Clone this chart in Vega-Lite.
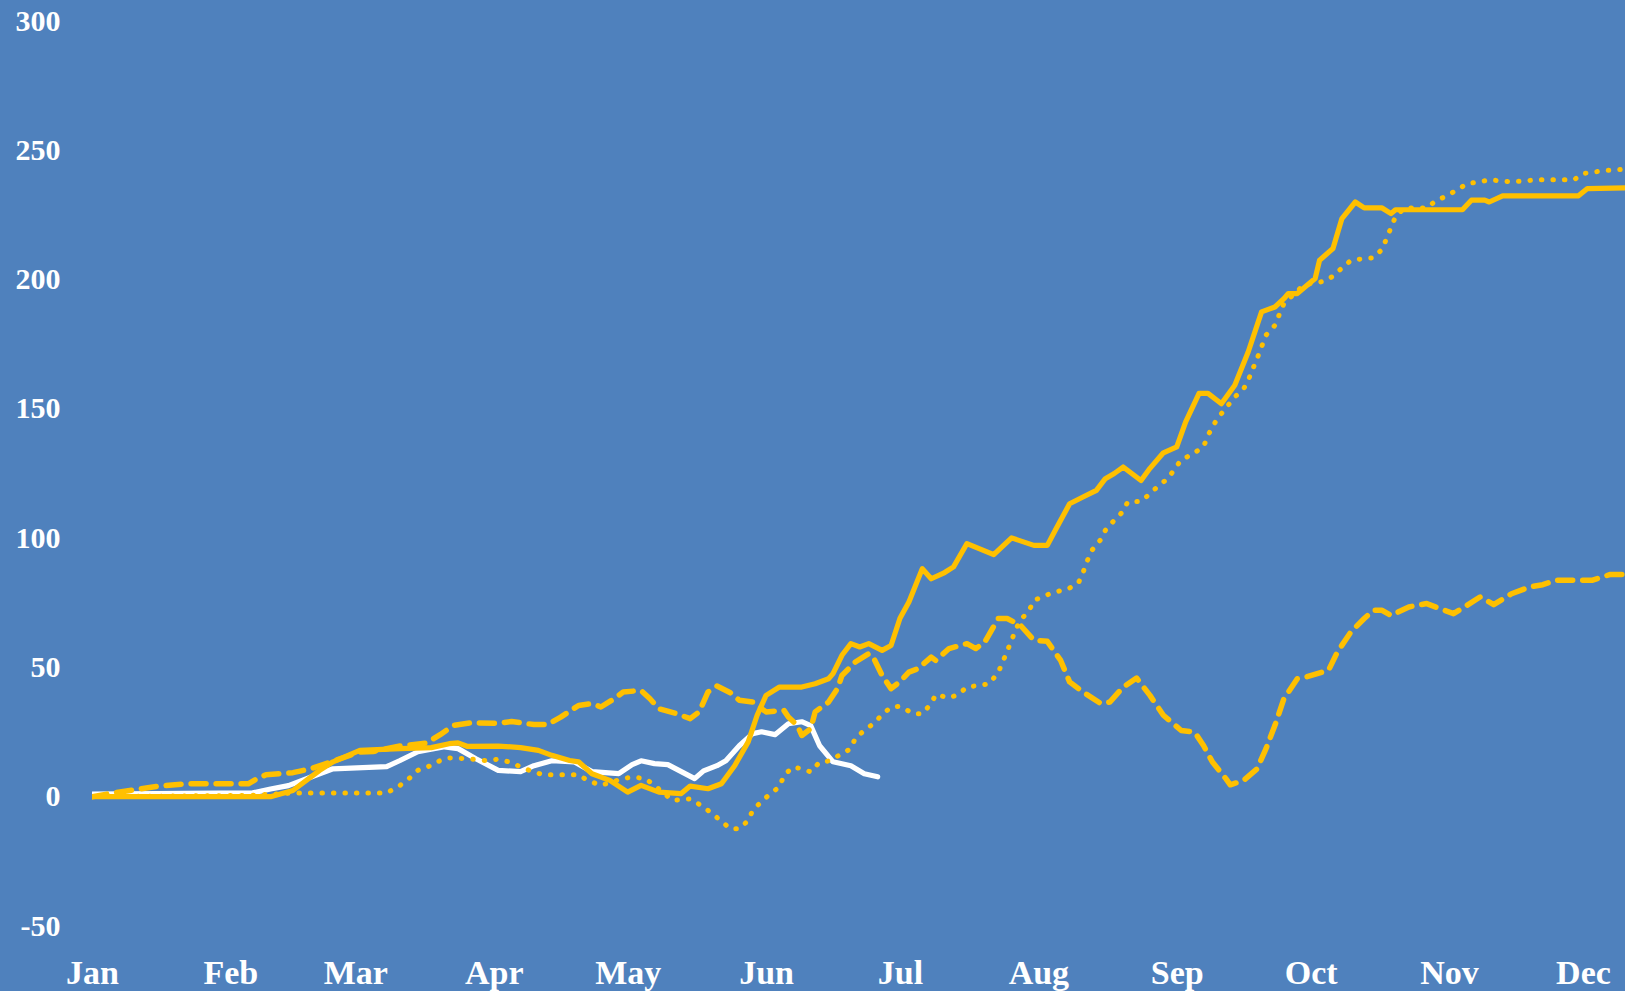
{
  "$schema": "https://vega.github.io/schema/vega-lite/v6.json",
  "autosize": {"type": "none"},
  "width": 1533,
  "height": 905,
  "padding": {"left": 92, "top": 21, "right": 0, "bottom": 65},
  "background": "#4F81BD",
  "config": {
    "view": {"stroke": null},
    "font": "Liberation Serif"
  },
  "datasets": {
    "current": [
      {"date": "2019-01-01", "v": 1}, {"date": "2019-02-06", "v": 1.5}, {"date": "2019-02-10", "v": 3},
      {"date": "2019-02-14", "v": 4.3}, {"date": "2019-02-21", "v": 8.9}, {"date": "2019-02-24", "v": 10.8},
      {"date": "2019-03-08", "v": 11.6}, {"date": "2019-03-11", "v": 14}, {"date": "2019-03-15", "v": 17.4},
      {"date": "2019-03-21", "v": 19.3}, {"date": "2019-03-24", "v": 18.6}, {"date": "2019-03-28", "v": 14.7},
      {"date": "2019-04-02", "v": 10.2}, {"date": "2019-04-07", "v": 9.7}, {"date": "2019-04-10", "v": 12},
      {"date": "2019-04-14", "v": 13.9}, {"date": "2019-04-19", "v": 13.5}, {"date": "2019-04-23", "v": 9.7},
      {"date": "2019-04-29", "v": 8.9}, {"date": "2019-05-02", "v": 12.4}, {"date": "2019-05-04", "v": 13.9},
      {"date": "2019-05-07", "v": 12.8}, {"date": "2019-05-10", "v": 12.4}, {"date": "2019-05-13", "v": 9.7},
      {"date": "2019-05-16", "v": 7}, {"date": "2019-05-18", "v": 10}, {"date": "2019-05-21", "v": 12},
      {"date": "2019-05-23", "v": 13.9}, {"date": "2019-05-26", "v": 19.7}, {"date": "2019-05-29", "v": 24.4},
      {"date": "2019-05-31", "v": 25.1}, {"date": "2019-06-03", "v": 24}, {"date": "2019-06-06", "v": 28.2},
      {"date": "2019-06-09", "v": 29}, {"date": "2019-06-11", "v": 27.5}, {"date": "2019-06-13", "v": 19.7},
      {"date": "2019-06-16", "v": 13.5}, {"date": "2019-06-20", "v": 12}, {"date": "2019-06-23", "v": 8.9},
      {"date": "2019-06-26", "v": 7.7}
    ],
    "solid": [
      {"date": "2019-01-01", "v": 0}, {"date": "2019-02-10", "v": 0}, {"date": "2019-02-15", "v": 2.4},
      {"date": "2019-02-21", "v": 10.2}, {"date": "2019-02-24", "v": 13.5}, {"date": "2019-03-02", "v": 17.9},
      {"date": "2019-03-11", "v": 18.6}, {"date": "2019-03-18", "v": 19}, {"date": "2019-03-22", "v": 20.5},
      {"date": "2019-03-24", "v": 20.8}, {"date": "2019-03-26", "v": 19.5}, {"date": "2019-04-02", "v": 19.6},
      {"date": "2019-04-07", "v": 19}, {"date": "2019-04-11", "v": 17.9}, {"date": "2019-04-14", "v": 16},
      {"date": "2019-04-18", "v": 14}, {"date": "2019-04-20", "v": 13.5}, {"date": "2019-04-23", "v": 8.9},
      {"date": "2019-04-27", "v": 6.3}, {"date": "2019-05-01", "v": 1.8}, {"date": "2019-05-04", "v": 4.4},
      {"date": "2019-05-08", "v": 1.8}, {"date": "2019-05-13", "v": 1.2}, {"date": "2019-05-15", "v": 4.1},
      {"date": "2019-05-19", "v": 3.1}, {"date": "2019-05-22", "v": 5}, {"date": "2019-05-25", "v": 12.1},
      {"date": "2019-05-28", "v": 21.2}, {"date": "2019-05-30", "v": 31.5}, {"date": "2019-06-01", "v": 39.2},
      {"date": "2019-06-04", "v": 42.4}, {"date": "2019-06-09", "v": 42.4}, {"date": "2019-06-12", "v": 43.7},
      {"date": "2019-06-15", "v": 45.6}, {"date": "2019-06-16", "v": 47.6}, {"date": "2019-06-18", "v": 54.7},
      {"date": "2019-06-20", "v": 59.2}, {"date": "2019-06-22", "v": 57.9}, {"date": "2019-06-24", "v": 59.2},
      {"date": "2019-06-27", "v": 56.6}, {"date": "2019-06-29", "v": 58.5}, {"date": "2019-07-01", "v": 69},
      {"date": "2019-07-03", "v": 75.3}, {"date": "2019-07-06", "v": 88.2}, {"date": "2019-07-08", "v": 84.3},
      {"date": "2019-07-11", "v": 86.7}, {"date": "2019-07-13", "v": 88.9}, {"date": "2019-07-16", "v": 97.9},
      {"date": "2019-07-22", "v": 93.6}, {"date": "2019-07-26", "v": 100.1}, {"date": "2019-07-31", "v": 97.2},
      {"date": "2019-08-03", "v": 97.2}, {"date": "2019-08-05", "v": 103.7}, {"date": "2019-08-08", "v": 113.3},
      {"date": "2019-08-11", "v": 115.9}, {"date": "2019-08-14", "v": 118.5}, {"date": "2019-08-16", "v": 123},
      {"date": "2019-08-18", "v": 125}, {"date": "2019-08-20", "v": 127.5}, {"date": "2019-08-24", "v": 122.3},
      {"date": "2019-08-26", "v": 127}, {"date": "2019-08-29", "v": 133}, {"date": "2019-09-01", "v": 135.3},
      {"date": "2019-09-03", "v": 145}, {"date": "2019-09-06", "v": 156}, {"date": "2019-09-08", "v": 156},
      {"date": "2019-09-10", "v": 153.3}, {"date": "2019-09-11", "v": 152}, {"date": "2019-09-14", "v": 159.1},
      {"date": "2019-09-17", "v": 172}, {"date": "2019-09-20", "v": 187.5}, {"date": "2019-09-23", "v": 189.4},
      {"date": "2019-09-25", "v": 192.6}, {"date": "2019-09-26", "v": 194.6}, {"date": "2019-09-28", "v": 194.6},
      {"date": "2019-10-02", "v": 200.4}, {"date": "2019-10-03", "v": 207.5}, {"date": "2019-10-06", "v": 212},
      {"date": "2019-10-08", "v": 223.6}, {"date": "2019-10-11", "v": 230}, {"date": "2019-10-13", "v": 227.7},
      {"date": "2019-10-17", "v": 227.7}, {"date": "2019-10-19", "v": 225.5}, {"date": "2019-10-20", "v": 227},
      {"date": "2019-11-04", "v": 227}, {"date": "2019-11-06", "v": 230.7}, {"date": "2019-11-09", "v": 230.7},
      {"date": "2019-11-10", "v": 230}, {"date": "2019-11-13", "v": 232.4}, {"date": "2019-11-30", "v": 232.4},
      {"date": "2019-12-02", "v": 235.2}, {"date": "2019-12-12", "v": 235.5}
    ],
    "dashed": [
      {"date": "2019-01-01", "v": 0}, {"date": "2019-01-05", "v": 1.2}, {"date": "2019-01-12", "v": 3.1},
      {"date": "2019-01-16", "v": 4.1}, {"date": "2019-01-22", "v": 5}, {"date": "2019-02-05", "v": 5},
      {"date": "2019-02-07", "v": 7}, {"date": "2019-02-09", "v": 8.5}, {"date": "2019-02-15", "v": 9.3},
      {"date": "2019-02-19", "v": 10.8}, {"date": "2019-02-24", "v": 13.7}, {"date": "2019-03-02", "v": 17.3},
      {"date": "2019-03-05", "v": 17.5}, {"date": "2019-03-11", "v": 19.6}, {"date": "2019-03-17", "v": 20.8},
      {"date": "2019-03-20", "v": 24}, {"date": "2019-03-23", "v": 27.6}, {"date": "2019-03-27", "v": 28.6},
      {"date": "2019-04-02", "v": 28.4}, {"date": "2019-04-05", "v": 29.1}, {"date": "2019-04-10", "v": 27.9},
      {"date": "2019-04-13", "v": 27.9}, {"date": "2019-04-16", "v": 30.8}, {"date": "2019-04-20", "v": 35.3},
      {"date": "2019-04-23", "v": 36}, {"date": "2019-04-25", "v": 34.7}, {"date": "2019-04-28", "v": 37.9},
      {"date": "2019-04-30", "v": 40.5}, {"date": "2019-05-04", "v": 41.1}, {"date": "2019-05-06", "v": 37.9},
      {"date": "2019-05-08", "v": 34}, {"date": "2019-05-12", "v": 32.1}, {"date": "2019-05-15", "v": 30.2},
      {"date": "2019-05-17", "v": 32.8}, {"date": "2019-05-19", "v": 40.5}, {"date": "2019-05-21", "v": 42.8},
      {"date": "2019-05-24", "v": 40.2}, {"date": "2019-05-26", "v": 37.3}, {"date": "2019-05-29", "v": 36.6},
      {"date": "2019-06-01", "v": 32.8}, {"date": "2019-06-05", "v": 33.4}, {"date": "2019-06-06", "v": 30.8},
      {"date": "2019-06-08", "v": 27.6}, {"date": "2019-06-09", "v": 23.7}, {"date": "2019-06-11", "v": 26.3},
      {"date": "2019-06-12", "v": 32.8}, {"date": "2019-06-15", "v": 36.6}, {"date": "2019-06-17", "v": 41.8},
      {"date": "2019-06-18", "v": 46.9}, {"date": "2019-06-21", "v": 52.1}, {"date": "2019-06-24", "v": 55.3},
      {"date": "2019-06-25", "v": 54}, {"date": "2019-06-27", "v": 46.9}, {"date": "2019-06-29", "v": 41.8},
      {"date": "2019-07-01", "v": 44.5}, {"date": "2019-07-03", "v": 48.2}, {"date": "2019-07-05", "v": 49.5},
      {"date": "2019-07-08", "v": 54}, {"date": "2019-07-09", "v": 52.7}, {"date": "2019-07-12", "v": 57.3},
      {"date": "2019-07-16", "v": 59.2}, {"date": "2019-07-18", "v": 57.3}, {"date": "2019-07-20", "v": 59.8},
      {"date": "2019-07-23", "v": 68.9}, {"date": "2019-07-25", "v": 68.9}, {"date": "2019-07-28", "v": 66.3},
      {"date": "2019-07-31", "v": 60.5}, {"date": "2019-08-03", "v": 60.1}, {"date": "2019-08-06", "v": 52.7},
      {"date": "2019-08-08", "v": 44.4}, {"date": "2019-08-11", "v": 40.5}, {"date": "2019-08-15", "v": 36},
      {"date": "2019-08-17", "v": 36.6}, {"date": "2019-08-20", "v": 42.4}, {"date": "2019-08-23", "v": 45.9},
      {"date": "2019-08-26", "v": 39.2}, {"date": "2019-08-29", "v": 31.5}, {"date": "2019-09-02", "v": 25.6},
      {"date": "2019-09-05", "v": 25}, {"date": "2019-09-07", "v": 19.8}, {"date": "2019-09-09", "v": 13.4},
      {"date": "2019-09-12", "v": 7}, {"date": "2019-09-13", "v": 4.6}, {"date": "2019-09-16", "v": 6.3},
      {"date": "2019-09-19", "v": 10.8}, {"date": "2019-09-21", "v": 18.6}, {"date": "2019-09-23", "v": 27.6},
      {"date": "2019-09-25", "v": 37.9}, {"date": "2019-09-28", "v": 45.6}, {"date": "2019-09-30", "v": 46.3},
      {"date": "2019-10-05", "v": 48.9}, {"date": "2019-10-07", "v": 56}, {"date": "2019-10-10", "v": 63.7},
      {"date": "2019-10-13", "v": 68.9}, {"date": "2019-10-15", "v": 72.1}, {"date": "2019-10-17", "v": 72.1},
      {"date": "2019-10-19", "v": 70.1}, {"date": "2019-10-23", "v": 73.4}, {"date": "2019-10-27", "v": 74.7},
      {"date": "2019-10-30", "v": 72.7}, {"date": "2019-11-02", "v": 70.8}, {"date": "2019-11-05", "v": 74},
      {"date": "2019-11-08", "v": 77.3}, {"date": "2019-11-11", "v": 74.3}, {"date": "2019-11-15", "v": 78.5},
      {"date": "2019-11-19", "v": 81.1}, {"date": "2019-11-22", "v": 82}, {"date": "2019-11-25", "v": 83.7},
      {"date": "2019-12-03", "v": 83.7}, {"date": "2019-12-07", "v": 85.9}, {"date": "2019-12-12", "v": 85.9}
    ],
    "dotted": [
      {"date": "2019-01-01", "v": 0}, {"date": "2019-02-05", "v": 0.5}, {"date": "2019-02-15", "v": 1.4},
      {"date": "2019-03-08", "v": 1.4}, {"date": "2019-03-11", "v": 4.4}, {"date": "2019-03-13", "v": 7},
      {"date": "2019-03-15", "v": 10.2}, {"date": "2019-03-18", "v": 12.1}, {"date": "2019-03-20", "v": 14},
      {"date": "2019-03-22", "v": 15}, {"date": "2019-03-26", "v": 14.7}, {"date": "2019-03-30", "v": 14},
      {"date": "2019-04-02", "v": 14.5}, {"date": "2019-04-05", "v": 13.2}, {"date": "2019-04-07", "v": 11.5},
      {"date": "2019-04-09", "v": 10.2}, {"date": "2019-04-12", "v": 8.5}, {"date": "2019-04-20", "v": 8.5},
      {"date": "2019-04-22", "v": 6.3}, {"date": "2019-04-25", "v": 4.4}, {"date": "2019-04-30", "v": 7},
      {"date": "2019-05-02", "v": 7.6}, {"date": "2019-05-05", "v": 7}, {"date": "2019-05-07", "v": 4.4},
      {"date": "2019-05-11", "v": -1.4}, {"date": "2019-05-15", "v": -0.8}, {"date": "2019-05-18", "v": -4},
      {"date": "2019-05-20", "v": -6.6}, {"date": "2019-05-22", "v": -9.5}, {"date": "2019-05-24", "v": -12.4},
      {"date": "2019-05-26", "v": -12.4}, {"date": "2019-05-28", "v": -9.2}, {"date": "2019-05-29", "v": -5.3},
      {"date": "2019-05-31", "v": -1.8}, {"date": "2019-06-02", "v": 1.2}, {"date": "2019-06-04", "v": 3.8},
      {"date": "2019-06-05", "v": 8.2}, {"date": "2019-06-07", "v": 11.5}, {"date": "2019-06-09", "v": 10.8},
      {"date": "2019-06-11", "v": 9.6}, {"date": "2019-06-13", "v": 13.4}, {"date": "2019-06-15", "v": 13.8},
      {"date": "2019-06-18", "v": 16.6}, {"date": "2019-06-20", "v": 18.6}, {"date": "2019-06-21", "v": 22.7},
      {"date": "2019-06-23", "v": 25.6}, {"date": "2019-06-25", "v": 28.2}, {"date": "2019-06-27", "v": 31.7},
      {"date": "2019-06-29", "v": 34.7}, {"date": "2019-07-01", "v": 35}, {"date": "2019-07-04", "v": 32.1},
      {"date": "2019-07-06", "v": 32.1}, {"date": "2019-07-08", "v": 36}, {"date": "2019-07-09", "v": 39.5},
      {"date": "2019-07-12", "v": 38.2}, {"date": "2019-07-14", "v": 39.5}, {"date": "2019-07-16", "v": 42.4},
      {"date": "2019-07-19", "v": 43.1}, {"date": "2019-07-21", "v": 43.7}, {"date": "2019-07-23", "v": 48},
      {"date": "2019-07-24", "v": 52.1}, {"date": "2019-07-25", "v": 56.2}, {"date": "2019-07-26", "v": 60.5},
      {"date": "2019-07-27", "v": 65}, {"date": "2019-07-28", "v": 68.2}, {"date": "2019-07-30", "v": 72.3},
      {"date": "2019-07-31", "v": 75.9}, {"date": "2019-08-03", "v": 78.1}, {"date": "2019-08-05", "v": 79.2},
      {"date": "2019-08-08", "v": 80.7}, {"date": "2019-08-10", "v": 82.8}, {"date": "2019-08-11", "v": 86.7},
      {"date": "2019-08-12", "v": 91.4}, {"date": "2019-08-13", "v": 95.3}, {"date": "2019-08-15", "v": 99.5},
      {"date": "2019-08-16", "v": 103}, {"date": "2019-08-18", "v": 106.9}, {"date": "2019-08-20", "v": 110.4},
      {"date": "2019-08-21", "v": 114}, {"date": "2019-08-24", "v": 114.2}, {"date": "2019-08-26", "v": 117.2},
      {"date": "2019-08-28", "v": 120.4}, {"date": "2019-08-30", "v": 123}, {"date": "2019-09-02", "v": 130.3},
      {"date": "2019-09-04", "v": 132}, {"date": "2019-09-07", "v": 135.3}, {"date": "2019-09-08", "v": 139.8},
      {"date": "2019-09-10", "v": 146}, {"date": "2019-09-14", "v": 154.6}, {"date": "2019-09-16", "v": 157.8},
      {"date": "2019-09-17", "v": 161}, {"date": "2019-09-18", "v": 165.3}, {"date": "2019-09-19", "v": 169.4},
      {"date": "2019-09-20", "v": 174}, {"date": "2019-09-21", "v": 178.5}, {"date": "2019-09-23", "v": 182.3},
      {"date": "2019-09-24", "v": 186.6}, {"date": "2019-09-25", "v": 190.7}, {"date": "2019-09-29", "v": 197.2},
      {"date": "2019-10-01", "v": 198.5}, {"date": "2019-10-04", "v": 199.3}, {"date": "2019-10-06", "v": 201.3},
      {"date": "2019-10-08", "v": 204.5}, {"date": "2019-10-10", "v": 207.4}, {"date": "2019-10-12", "v": 207.9},
      {"date": "2019-10-15", "v": 208.4}, {"date": "2019-10-17", "v": 211.7}, {"date": "2019-10-18", "v": 215.9},
      {"date": "2019-10-19", "v": 220.1}, {"date": "2019-10-20", "v": 224.3}, {"date": "2019-10-22", "v": 227.7},
      {"date": "2019-10-27", "v": 227.7}, {"date": "2019-10-29", "v": 230.4}, {"date": "2019-10-31", "v": 232},
      {"date": "2019-11-03", "v": 234.8}, {"date": "2019-11-05", "v": 237.1}, {"date": "2019-11-08", "v": 237.8},
      {"date": "2019-11-10", "v": 238.6}, {"date": "2019-11-15", "v": 237.8}, {"date": "2019-11-21", "v": 238.6},
      {"date": "2019-11-29", "v": 238.6}, {"date": "2019-12-01", "v": 241}, {"date": "2019-12-06", "v": 242.2},
      {"date": "2019-12-12", "v": 242.8}
    ]
  },
  "encoding": {
    "x": {
      "field": "date",
      "type": "temporal",
      "scale": {"type": "utc", "domain": ["2019-01-01T00:00:00Z", "2019-12-10T10:00:00Z"]},
      "axis": {
        "title": null,
        "tickCount": {"interval": "month", "step": 1},
        "labelExpr": "utcFormat(datum.value, '%b')",
        "grid": false,
        "ticks": false,
        "domain": false,
        "labelFlush": false,
        "labelOverlap": false,
        "labelBound": false,
        "labelAlign": "center",
        "labelBaseline": "top",
        "labelPadding": 30,
        "labelColor": "#FFFFFF",
        "labelFont": "Liberation Serif",
        "labelFontWeight": "bold",
        "labelFontSize": 34
      }
    },
    "y": {
      "field": "v",
      "type": "quantitative",
      "scale": {"domain": [-50, 300], "nice": false, "zero": false},
      "axis": {
        "title": null,
        "values": [-50, 0, 50, 100, 150, 200, 250, 300],
        "labelExpr": "datum.value < 0 ? '-' + (-datum.value) : '' + datum.value",
        "grid": false,
        "ticks": false,
        "domain": false,
        "labelPadding": 32,
        "labelColor": "#FFFFFF",
        "labelFont": "Liberation Serif",
        "labelFontWeight": "bold",
        "labelFontSize": 30
      }
    }
  },
  "layer": [
    {
      "data": {"name": "current"},
      "mark": {"type": "line", "color": "#FFFFFF", "strokeWidth": 5.2, "strokeJoin": "round", "strokeCap": "round", "clip": true}
    },
    {
      "data": {"name": "dotted"},
      "mark": {"type": "line", "color": "#FFC000", "strokeWidth": 5, "strokeCap": "round", "strokeJoin": "round", "strokeDash": [0.5, 11], "clip": true}
    },
    {
      "data": {"name": "dashed"},
      "mark": {"type": "line", "color": "#FFC000", "strokeWidth": 5.5, "strokeCap": "round", "strokeJoin": "round", "strokeDash": [15, 10], "clip": true}
    },
    {
      "data": {"name": "solid"},
      "mark": {"type": "line", "color": "#FFC000", "strokeWidth": 5.2, "strokeJoin": "round", "strokeCap": "round", "clip": true}
    }
  ]
}
